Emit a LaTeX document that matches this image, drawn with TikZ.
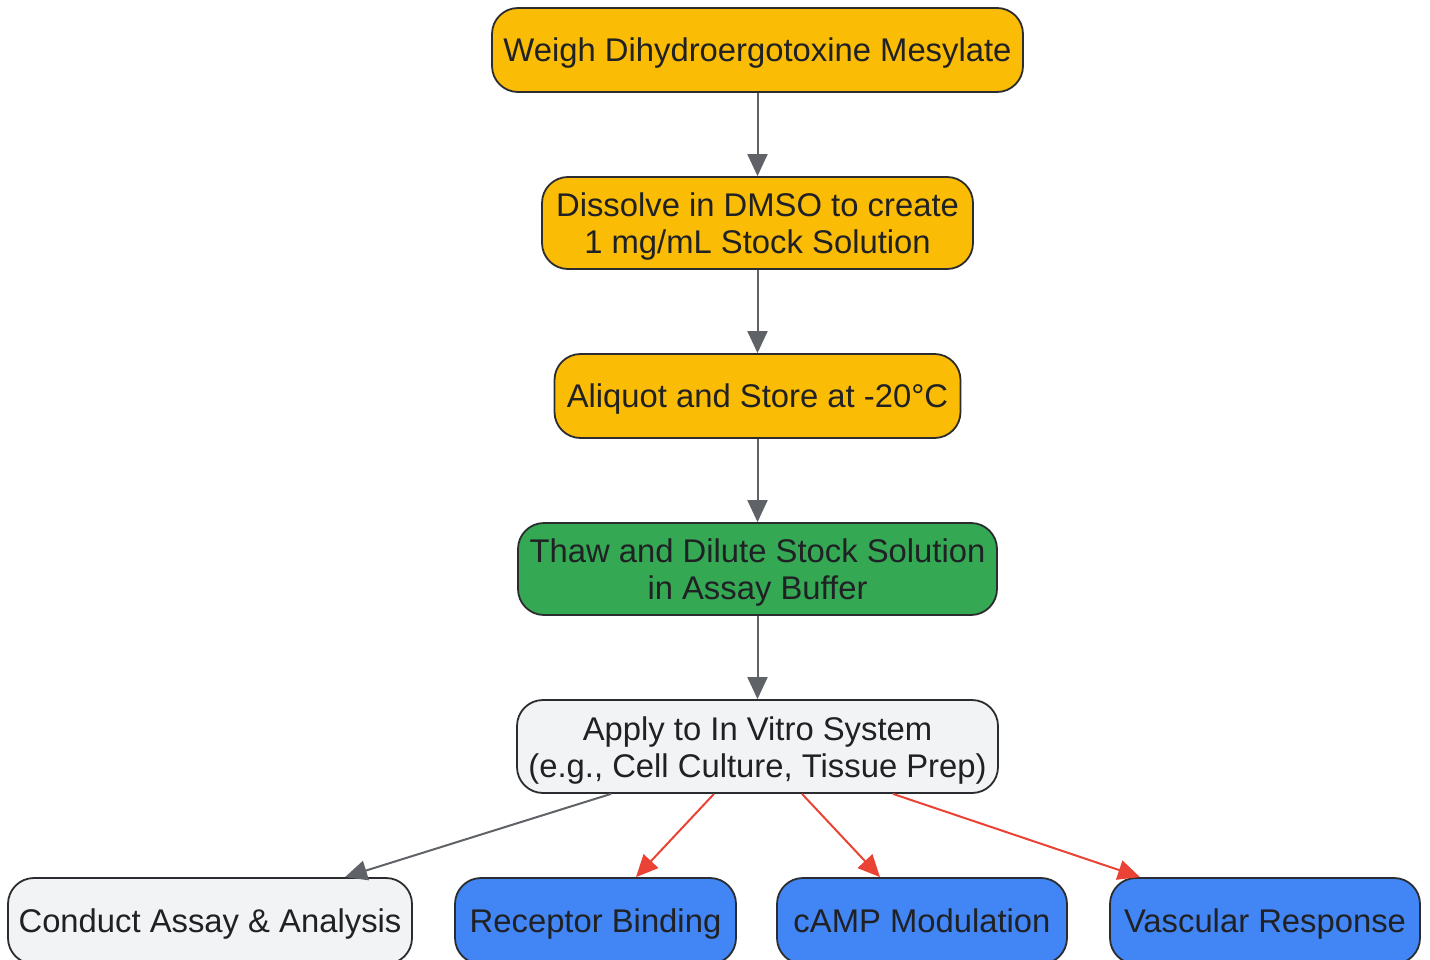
\documentclass[tikz,border=0pt]{standalone}
\usepackage{fontspec}
\setmainfont{Liberation Sans}
\usetikzlibrary{arrows.meta}
\definecolor{cyel}{HTML}{FBBC05}
\definecolor{cgrn}{HTML}{34A853}
\definecolor{cgry}{HTML}{F1F3F4}
\definecolor{cblu}{HTML}{4285F4}
\definecolor{ctxt}{HTML}{202124}
\definecolor{cedge}{HTML}{5F6368}
\definecolor{cred}{HTML}{EA4335}
\tikzset{
  box/.style={draw=ctxt!95, line width=1.8pt, rounded corners=26pt, inner sep=0pt, anchor=center},
  lbl/.style={align=center, text=ctxt, font=\fontsize{32.8}{37}\selectfont, inner sep=0pt, anchor=center},
  garrow/.style={draw=cedge, line width=2pt, -{Triangle[length=22pt,width=20pt]}},
  rarrow/.style={draw=cred, line width=2pt, -{Triangle[length=22pt,width=20pt]}},
}
\begin{document}
\begin{tikzpicture}[x=1pt,y=-1pt]
\useasboundingbox (0,0) rectangle (1430,960);
\node[box, fill=cyel, minimum width=531pt, minimum height=84pt] (weigh) at (757.5,50) {};
\node[box, fill=cyel, minimum width=431pt, minimum height=92pt] (dissolve) at (757.5,223) {};
\node[box, fill=cyel, minimum width=406pt, minimum height=84pt] (aliquot) at (757.5,396) {};
\node[box, fill=cgrn, minimum width=479pt, minimum height=92pt] (thaw) at (757.5,569) {};
\node[box, fill=cgry, minimum width=481pt, minimum height=93pt] (apply) at (757.5,746.5) {};
\node[box, fill=cgry, minimum width=404pt, minimum height=86pt] (conduct) at (210,921) {};
\node[box, fill=cblu, minimum width=281pt, minimum height=86pt] (receptor) at (595.5,921) {};
\node[box, fill=cblu, minimum width=290pt, minimum height=86pt] (camp) at (922,921) {};
\node[box, fill=cblu, minimum width=310pt, minimum height=86pt] (vasc) at (1265,921) {};

\node[lbl] (tweigh) at ([yshift=-4pt]weigh.center) {\strut Weigh Dihydroergotoxine Mesylate};
\node[lbl] (tdissolve) at ([yshift=-4pt]dissolve.center) {Dissolve in DMSO to create\\1 mg/mL Stock Solution};
\node[lbl] (taliquot) at ([yshift=-4pt]aliquot.center) {\strut Aliquot and Store at -20°C};
\node[lbl] (tthaw) at ([yshift=-4pt]thaw.center) {Thaw and Dilute Stock Solution\\in Assay Buffer};
\node[lbl] (tapply) at ([yshift=-4pt]apply.center) {Apply to In Vitro System\\(e.g., Cell Culture, Tissue Prep)};
\node[lbl] (tconduct) at ([yshift=-4pt]conduct.center) {\strut Conduct Assay \& Analysis};
\node[lbl] (treceptor) at ([yshift=-4pt]receptor.center) {\strut Receptor Binding};
\node[lbl] (tcamp) at ([yshift=-4pt]camp.center) {\strut cAMP Modulation};
\node[lbl] (tvasc) at ([yshift=-4pt]vasc.center) {\strut Vascular Response};

\draw[garrow] (weigh.south) -- (dissolve.north);
\draw[garrow] (dissolve.south) -- (aliquot.north);
\draw[garrow] (aliquot.south) -- (thaw.north);
\draw[garrow] (thaw.south) -- (apply.north);
\draw[garrow] ([xshift=-146.5pt]apply.south) -- ([xshift=135pt]conduct.north);
\draw[rarrow] ([xshift=-43.5pt]apply.south) -- ([xshift=40.5pt]receptor.north);
\draw[rarrow] ([xshift=44.5pt]apply.south) -- ([xshift=-42pt]camp.north);
\draw[rarrow] ([xshift=135.5pt]apply.south) -- ([xshift=-125pt]vasc.north);
\end{tikzpicture}
\end{document}
